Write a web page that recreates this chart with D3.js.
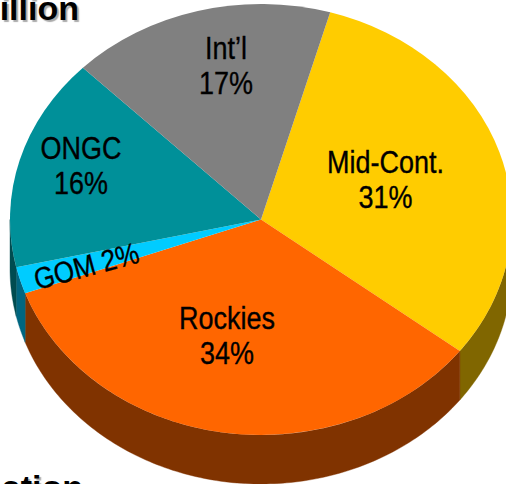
<!DOCTYPE html>
<html><head><meta charset="utf-8">
<script src="https://cdn.jsdelivr.net/npm/d3@7/dist/d3.min.js"></script>
<style>html,body{margin:0;padding:0;background:#fff;overflow:hidden}svg{display:block}
text{font-family:"Liberation Sans",Arial,sans-serif;fill:#000}</style></head>
<body><svg id="c" width="506" height="484"></svg>
<script>
const categories=["Mid-Cont.","Rockies","GOM","ONGC","Int'l"];
const percents=[31,34,2,16,17];
const topColors=["#FFCC00","#FF6600","#00CCFF","#009099","#808080"];
const wallColors=["#806600","#803300","#006680","#004C50","#404040"];
const labelLines=[["Mid-Cont.","31%"],["Rockies","34%"],["GOM 2%"],["ONGC","16%"],["Int\u2019l","17%"]];
const labelAt=[[385.5,163],[227,319],[86.5,266.5],[81,149],[226,49]];
const labelRotate=[0,0,-15,0,0];

const cx=261,cy=219.5,rx=251,ry=215.5,depth=49;
const svg=d3.select("#c");
const pie=d3.pie().value(d=>d).sort(null).startAngle(16*Math.PI/180).endAngle(376*Math.PI/180);
const arcs=pie(percents);
const px=a=>cx+rx*Math.sin(a), py=a=>cy-ry*Math.cos(a);
const wallLine=d3.line();

const front=[Math.PI/2,3*Math.PI/2];
const walls=svg.append("g");
arcs.forEach((d,i)=>{
  const a0=Math.max(d.startAngle,front[0]),a1=Math.min(d.endAngle,front[1]);
  if(a1<=a0)return;
  const n=Math.ceil((a1-a0)*60);
  const s=d3.scaleLinear().domain([0,n]).range([a0,a1]);
  const t=d3.range(n+1).map(s);
  const pts=t.map(a=>[px(a),py(a)]).concat(t.slice().reverse().map(a=>[px(a),py(a)+depth]));
  walls.append("path").attr("d",wallLine(pts)+"Z").attr("fill",wallColors[i]).attr("stroke",wallColors[i]).attr("stroke-width",0.4);
});

const arc=d3.arc().innerRadius(0).outerRadius(rx);
svg.append("g").attr("transform",`translate(${cx},${cy}) scale(1,${ry/rx})`)
  .selectAll("path").data(arcs).join("path")
  .attr("d",arc).attr("fill",(d,i)=>topColors[i]);

const lab=svg.append("g");
labelLines.forEach((lines,i)=>{
  const g=lab.append("g").attr("transform",`translate(${labelAt[i][0]},${labelAt[i][1]}) rotate(${labelRotate[i]}) scale(0.87,1)`);
  lines.forEach((t,j)=>g.append("text").attr("text-anchor","middle").attr("y",j*35+10)
    .attr("font-size",i===2?30:31).attr("stroke","#000").attr("stroke-width",0.35).text(t));
});

[["illion",79,20],["ation",83,499]].forEach(([t,x,y])=>{
  svg.append("text").attr("x",x).attr("y",y).attr("text-anchor","end").attr("font-size",34).attr("font-weight","bold")
    .style("text-shadow","2px 2px 1px #aaa").text(t);
});
</script></body></html>
